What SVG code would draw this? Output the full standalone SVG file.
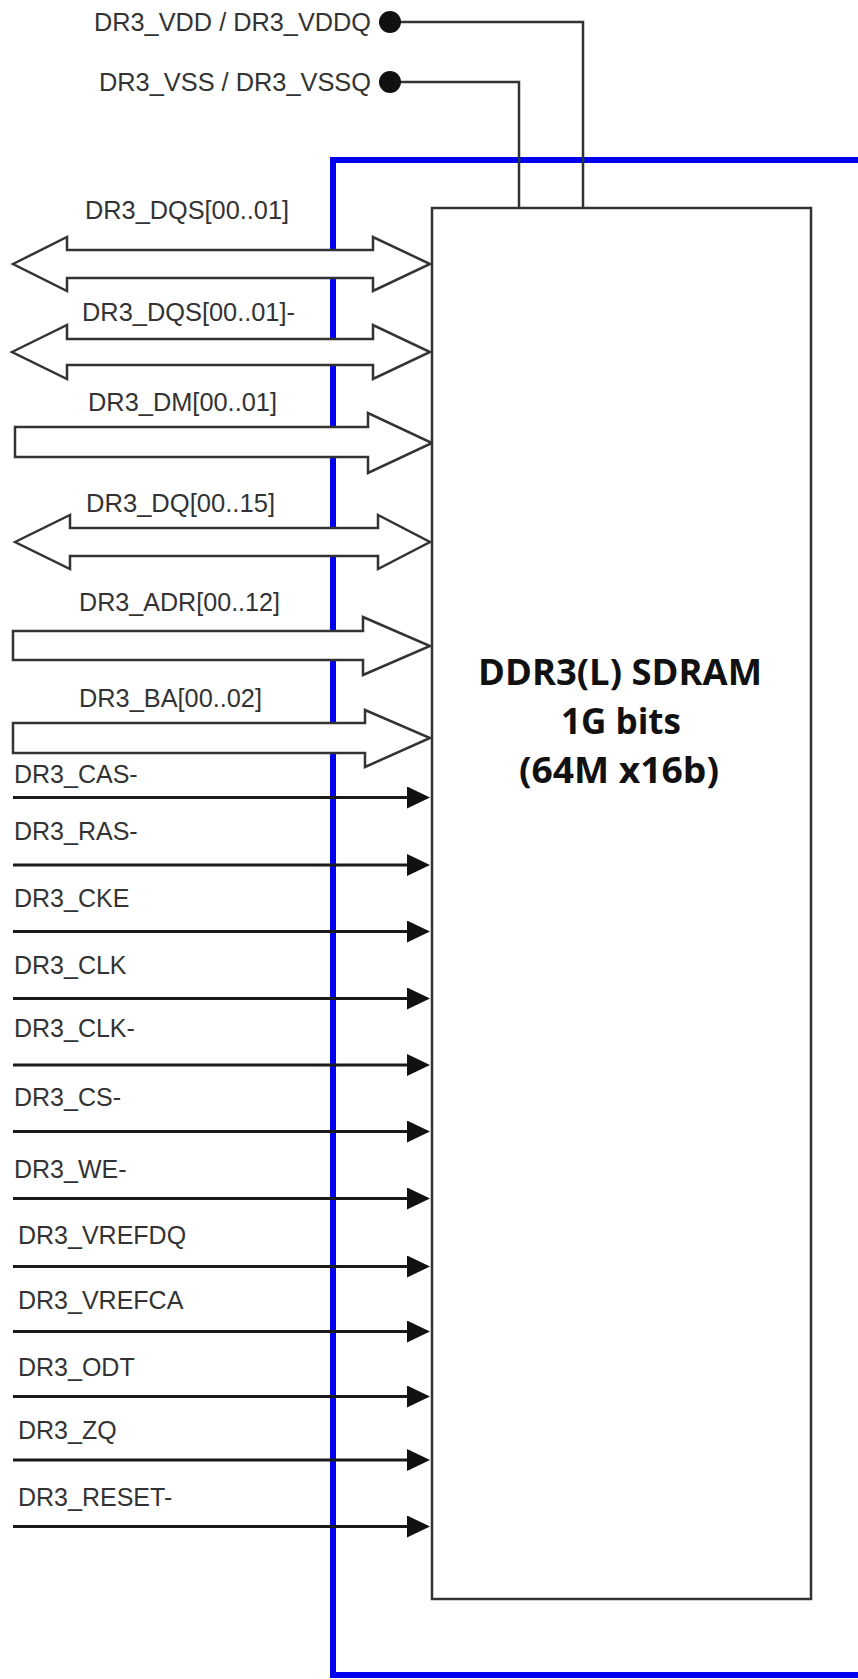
<svg xmlns="http://www.w3.org/2000/svg" width="858" height="1679" viewBox="0 0 858 1679">
<style>
.lbl{font-family:"Liberation Sans",Arial,sans-serif;font-size:25px;fill:#333}
.bus{fill:#fff;stroke:#333;stroke-width:2.5;stroke-linejoin:miter}
.sig{stroke:#1a1a1a;stroke-width:3;fill:none}
.pwr{stroke:#333;stroke-width:2.5;fill:none}
.chip{fill:#fff;stroke:#333;stroke-width:2.5}
.chiptxt{font-family:"Open Sans","Noto Sans",sans-serif;font-weight:700;font-size:35px;fill:#111;text-anchor:middle}
</style>
<defs>
<marker id="arr" markerUnits="userSpaceOnUse" markerWidth="24" markerHeight="24" refX="13" refY="11" orient="auto">
<path d="M0,0 L23,11 L0,22 Z" fill="#111"/>
</marker>
</defs>
<rect width="858" height="1679" fill="#fff"/>
<!-- blue board outline -->
<path id="board" d="M862 160 H333 V1675 H862" fill="none" stroke="#0000ee" stroke-width="6"/>
<g id="connectors">
<path class="pwr" d="M390 22 H583 V208"/>
<path class="pwr" d="M390 82 H519 V208"/>
<polygon class="bus" points="13,264 67,237 67,250 373,250 373,237 430,264 373,291 373,278 67,278 67,291"/>
<polygon class="bus" points="12,352 67,325 67,339 373,339 373,325 430,352 373,379 373,365 67,365 67,379"/>
<polygon class="bus" points="15,427 368,427 368,413 432,443 368,473 368,457 15,457"/>
<polygon class="bus" points="15,542 70,515 70,528 378,528 378,515 430,542 378,569 378,556 70,556 70,569"/>
<polygon class="bus" points="13,631 363,631 363,617 430,646 363,675 363,660 13,660"/>
<polygon class="bus" points="13,723 365,723 365,710 430,738 365,767 365,753 13,753"/>
<line class="sig" x1="13" y1="797.5" x2="420" y2="797.5" marker-end="url(#arr)"/>
<line class="sig" x1="13" y1="865" x2="420" y2="865" marker-end="url(#arr)"/>
<line class="sig" x1="13" y1="931.5" x2="420" y2="931.5" marker-end="url(#arr)"/>
<line class="sig" x1="13" y1="998.5" x2="420" y2="998.5" marker-end="url(#arr)"/>
<line class="sig" x1="13" y1="1065" x2="420" y2="1065" marker-end="url(#arr)"/>
<line class="sig" x1="13" y1="1131.5" x2="420" y2="1131.5" marker-end="url(#arr)"/>
<line class="sig" x1="13" y1="1198.5" x2="420" y2="1198.5" marker-end="url(#arr)"/>
<line class="sig" x1="13" y1="1266.5" x2="420" y2="1266.5" marker-end="url(#arr)"/>
<line class="sig" x1="13" y1="1331.5" x2="420" y2="1331.5" marker-end="url(#arr)"/>
<line class="sig" x1="13" y1="1396.5" x2="420" y2="1396.5" marker-end="url(#arr)"/>
<line class="sig" x1="13" y1="1460" x2="420" y2="1460" marker-end="url(#arr)"/>
<line class="sig" x1="13" y1="1526.5" x2="420" y2="1526.5" marker-end="url(#arr)"/>
</g>
<g id="chip">
<rect class="chip" x="432" y="208" width="379" height="1391"/>
<text class="chiptxt" x="620" y="685" textLength="284" lengthAdjust="spacingAndGlyphs">DDR3(L) SDRAM</text>
<text class="chiptxt" x="621" y="734" textLength="120" lengthAdjust="spacingAndGlyphs">1G bits</text>
<text class="chiptxt" x="619" y="783" textLength="200" lengthAdjust="spacingAndGlyphs">(64M x16b)</text>
</g>
<g id="vdd">
<circle cx="390" cy="22" r="11" fill="#111"/>
<text class="lbl" x="94" y="31" textLength="277" lengthAdjust="spacingAndGlyphs">DR3_VDD / DR3_VDDQ</text>
</g>
<g id="vss">
<circle cx="390" cy="82" r="11" fill="#111"/>
<text class="lbl" x="99" y="91" textLength="272" lengthAdjust="spacingAndGlyphs">DR3_VSS / DR3_VSSQ</text>
</g>
<g id="labels">
<text class="lbl" x="85" y="219" textLength="204" lengthAdjust="spacingAndGlyphs">DR3_DQS[00..01]</text>
<text class="lbl" x="82" y="321" textLength="213" lengthAdjust="spacingAndGlyphs">DR3_DQS[00..01]-</text>
<text class="lbl" x="88" y="411" textLength="189" lengthAdjust="spacingAndGlyphs">DR3_DM[00..01]</text>
<text class="lbl" x="86" y="512" textLength="189" lengthAdjust="spacingAndGlyphs">DR3_DQ[00..15]</text>
<text class="lbl" x="79" y="611" textLength="201" lengthAdjust="spacingAndGlyphs">DR3_ADR[00..12]</text>
<text class="lbl" x="79" y="707" textLength="183" lengthAdjust="spacingAndGlyphs">DR3_BA[00..02]</text>
<text class="lbl" x="14" y="783">DR3_CAS-</text>
<text class="lbl" x="14" y="840">DR3_RAS-</text>
<text class="lbl" x="14" y="907">DR3_CKE</text>
<text class="lbl" x="14" y="974">DR3_CLK</text>
<text class="lbl" x="14" y="1037">DR3_CLK-</text>
<text class="lbl" x="14" y="1106">DR3_CS-</text>
<text class="lbl" x="14" y="1178">DR3_WE-</text>
<text class="lbl" x="18" y="1244">DR3_VREFDQ</text>
<text class="lbl" x="18" y="1309">DR3_VREFCA</text>
<text class="lbl" x="18" y="1376">DR3_ODT</text>
<text class="lbl" x="18" y="1439">DR3_ZQ</text>
<text class="lbl" x="18" y="1506">DR3_RESET-</text>
</g>
</svg>
